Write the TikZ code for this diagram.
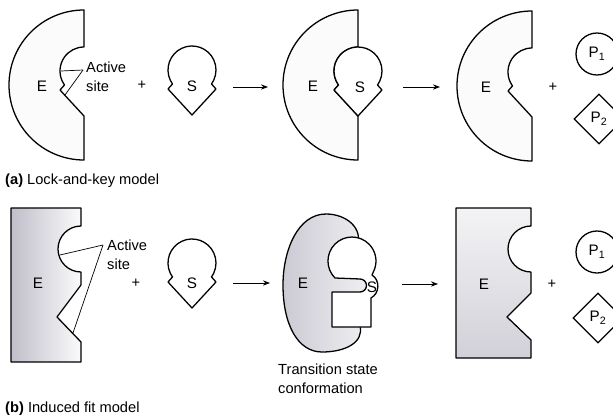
\documentclass[tikz,border=0pt]{standalone}
\usepackage{fontspec}
\setmainfont{Liberation Sans}
\usetikzlibrary{arrows.meta,shapes.geometric}

\definecolor{speck}{RGB}{140,138,158}

\tikzset{
  enzyme/.style={draw, line width=1.1pt, line join=round},
  substrate/.style={draw, line width=1.1pt, line join=round, fill=white},
  txt/.style={font=\fontsize{12.5}{16}\selectfont, inner sep=0pt},
  mol/.style={font=\fontsize{13}{15}\selectfont, inner sep=0pt},
  lead/.style={line width=0.6pt},
  react/.style={-{Stealth[length=6pt,width=4.5pt]}, line width=0.8pt},
  product/.style={draw, line width=1.1pt, inner sep=0pt, font=\fontsize{13}{15}\selectfont},
  pics/keyenzyme/.default={fill=speck!3},
  pics/keyenzyme/.style={code={
    \draw[enzyme,#1] (0,-61) arc[start angle=-90,end angle=-270,radius=75]
      -- (0,45) -- (-24,19) -- (-19.5,14) -- (-21.75,10.14)
      arc[start angle=-205,end angle=-90,radius=24] -- cycle;
  }},
  pics/key/.style={code={
    \draw[substrate] (-21.75,10.14) arc[start angle=-205,end angle=25,radius=24]
      -- (19.5,14) -- (24,19) -- (0,45) -- (-24,19) -- (-19.5,14) -- cycle;
  }},
}

\begin{document}
\begin{tikzpicture}[x=0.03cm, y=-0.03cm]
\clip (0,0) rectangle (613,420);

% (a) lock and key
\pic at (84,71) {keyenzyme};
\node[mol] (e1) at (42,86) {E};
\coordinate (pocket1) at (61,71);
\coordinate (cleft1) at (65,95);
\coordinate (site1) at (83,70);
\draw[lead] (pocket1) -- (site1);
\draw[lead] (cleft1) -- (site1);
\node[txt, anchor=north west, align=left] (act1) at (86,62) {Active\\site};
\node[txt] (plus1) at (142,85) {+};

\pic at (192,70) {key};
\node[mol] (s1) at (192,86) {S};

\coordinate (r1a) at (233,87);
\coordinate (r1b) at (268,87);
\draw[react] (r1a) -- (r1b);

\pic at (358,71) {keyenzyme};
\pic at (358,71) {key};
\node[mol] (e2) at (313,86) {E};
\node[mol] (s2) at (360,87) {S};

\coordinate (r2a) at (403,87);
\coordinate (r2b) at (440,87);
\draw[react] (r2a) -- (r2b);

\pic at (532,72) {keyenzyme};
\node[mol] (e3) at (486,87) {E};
\node[txt] (plus2) at (553,87) {+};
\node[product, circle, minimum size=1.26cm] (p1) at (597,54) {P\textsubscript{1}};
\node[product, diamond, aspect=1, minimum size=1.5cm] (p2) at (599,119) {P\textsubscript{2}};

\node[txt, anchor=west] (capa) at (5,181) {\textbf{(a)} Lock-and-key model};

% (b) induced fit
\begin{scope}[shift={(81,249)}]
  \draw[enzyme, left color=speck!55, right color=speck!4]
    (0,-41) -- (-70,-41) -- (-70,113) -- (0,113) -- (0,93) -- (-24,68) -- (0,36)
    -- (0,23) arc[start angle=90,end angle=270,radius=23] -- cycle;
\end{scope}
\node[mol] (e4) at (38,283) {E};
\coordinate (pocket2) at (60,255);
\coordinate (cleft2) at (73,333);
\coordinate (site2) at (103,245);
\draw[lead] (pocket2) -- (site2);
\draw[lead] (cleft2) -- (site2);
\node[txt, anchor=north west, align=left] (act2) at (107,240) {Active\\site};
\node[txt] (plus3) at (136,283) {+};

\pic at (192,263) {key};
\node[mol] (s3) at (192,283) {S};

\coordinate (r3a) at (233,283);
\coordinate (r3b) at (270,283);
\draw[react] (r3a) -- (r3b);

\draw[enzyme, left color=speck!45, right color=speck!12]
  (357,247) .. controls (364,228) and (346,214) .. (326,214)
  .. controls (298,214) and (283,250) .. (283,285)
  .. controls (283,325) and (298,352) .. (322,352)
  .. controls (346,352) and (364,342) .. (360,326)
  -- (366,304) -- (370,292) -- (371,282) -- (368,272) -- cycle;
\draw[substrate] (335,278) arc[start angle=135,end angle=380,radius=24]
  -- (372,275) .. controls (380,280) and (380,293) .. (371,298)
  -- (371,327) -- (332,327) -- (332,292) -- (360,292)
  arc[start angle=90,end angle=-90,radius=6.5] -- cycle;
\node[mol] (e5) at (303,283) {E};
\node[mol] (s4) at (372,287) {S};
\node[txt, anchor=north west, align=left] (ts) at (278,364) {Transition state\\conformation};

\coordinate (r4a) at (402,284);
\coordinate (r4b) at (438,284);
\draw[react] (r4a) -- (r4b);

\begin{scope}[shift={(531,249)}]
  \draw[enzyme, top color=speck!10, bottom color=speck!40]
    (0,-41) -- (-75,-41) -- (-75,109) -- (0,109) -- (0,91) -- (-24,68) -- (0,44)
    -- (0,23) arc[start angle=90,end angle=270,radius=23] -- cycle;
\end{scope}
\node[mol] (e6) at (484,284) {E};
\node[txt] (plus4) at (552,284) {+};
\node[product, circle, minimum size=1.26cm] (p3) at (597,252) {P\textsubscript{1}};
\node[product, diamond, aspect=1, minimum size=1.5cm] (p4) at (598,318) {P\textsubscript{2}};

\node[txt, anchor=west] (capb) at (5,409) {\textbf{(b)} Induced fit model};
\end{tikzpicture}
\end{document}
